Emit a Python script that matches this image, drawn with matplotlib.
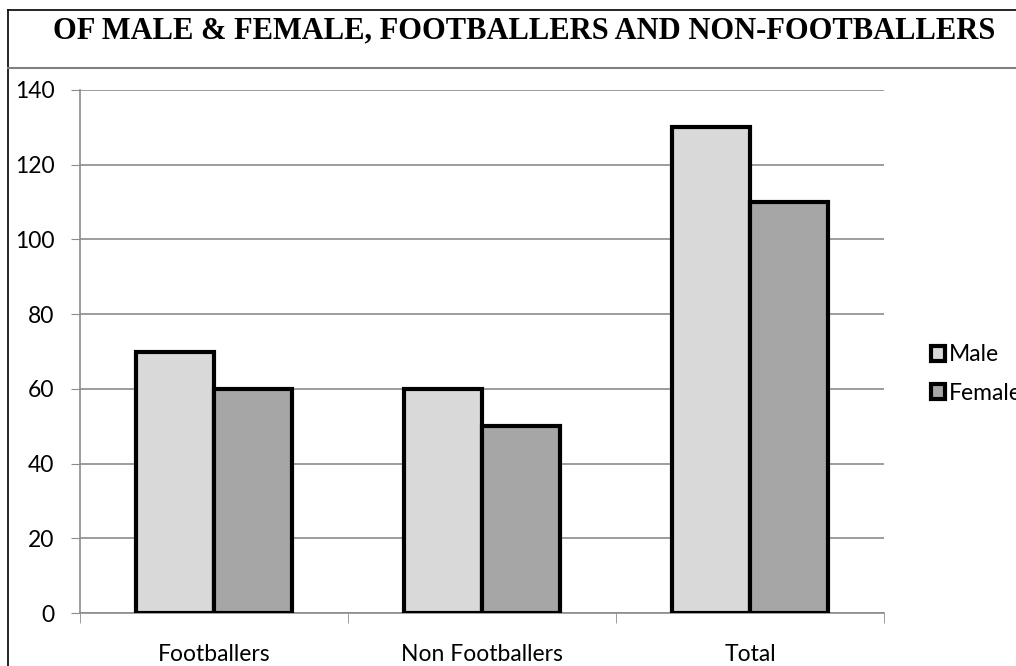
import numpy as np
import matplotlib.pyplot as plt
from matplotlib.patches import Rectangle
from matplotlib.lines import Line2D

# ----------------------------
# Data
# ----------------------------

categories = ["Footballers", "Non Footballers", "Total"]
male = [70, 60, 130]
female = [60, 50, 110]
series_names = ["Male", "Female"]
yticks = [0, 20, 40, 60, 80, 100, 120, 140]

male_color = "#d9d9d9"
female_color = "#a6a6a6"

# ----------------------------
# Figure
# ----------------------------

W, H = 1016, 666
fig = plt.figure(figsize=(W / 100, H / 100), dpi=100)

# outer frame and title separator
fig.add_artist(Line2D([8 / W, 8 / W], [0, 1 - 10 / H], color="black", lw=1.2))
fig.add_artist(Line2D([8 / W, 1], [1 - 10 / H, 1 - 10 / H], color="black", lw=1.2))
fig.add_artist(Line2D([8 / W, 1], [1 - 68 / H, 1 - 68 / H], color="#808080", lw=1.5))

fig.text(524 / W, 1 - 31 / H, "OF MALE & FEMALE, FOOTBALLERS AND NON-FOOTBALLERS",
         family="Liberation Serif", weight="bold", fontsize=22,
         ha="center", va="center")

ax = fig.add_axes([80 / W, 1 - 613 / H, 804 / W, 523 / H])

x = np.arange(len(categories))
width = 0.29

ax.bar(x - width / 2, male, width, color=male_color, edgecolor="black",
       linewidth=3, label=series_names[0], zorder=3)
ax.bar(x + width / 2, female, width, color=female_color, edgecolor="black",
       linewidth=3, label=series_names[1], zorder=3)

ax.set_xlim(-0.5, len(categories) - 0.5)
ax.set_ylim(0, 140)
ax.set_yticks(yticks)
ax.set_xticks(x)
ax.set_xticklabels(categories)
ax.set_xticks(np.arange(len(categories) + 1) - 0.5, minor=True)

ax.grid(axis="y", color="#8c8c8c", linewidth=1.2, zorder=0)
for side in ["top", "right"]:
    ax.spines[side].set_visible(False)
ax.spines["left"].set_color("#8c8c8c")
ax.spines["bottom"].set_color("#8c8c8c")
ax.spines["left"].set_linewidth(1.2)
ax.spines["bottom"].set_linewidth(1.2)

ax.tick_params(axis="y", length=6.5, color="#8c8c8c", labelsize=16.5, pad=12)
ax.tick_params(axis="x", which="major", length=0, labelsize=16.5, pad=22)
ax.tick_params(axis="x", which="minor", length=7, color="#8c8c8c")
for lbl in ax.get_xticklabels() + ax.get_yticklabels():
    lbl.set_family("Lato")

# ----------------------------
# Legend
# ----------------------------

handles = [
    Rectangle((0, 0), 1, 1, facecolor=male_color, edgecolor="black", linewidth=3),
    Rectangle((0, 0), 1, 1, facecolor=female_color, edgecolor="black", linewidth=3),
]
fig.legend(handles, series_names, loc="center left",
           bbox_to_anchor=(920 / W, 1 - 374 / H), frameon=False,
           prop={"family": "Lato", "size": 16.5},
           handlelength=0.6, handleheight=0.6, handletextpad=0.15,
           labelspacing=0.75, borderpad=0)

fig.savefig("out.png", dpi=100)
